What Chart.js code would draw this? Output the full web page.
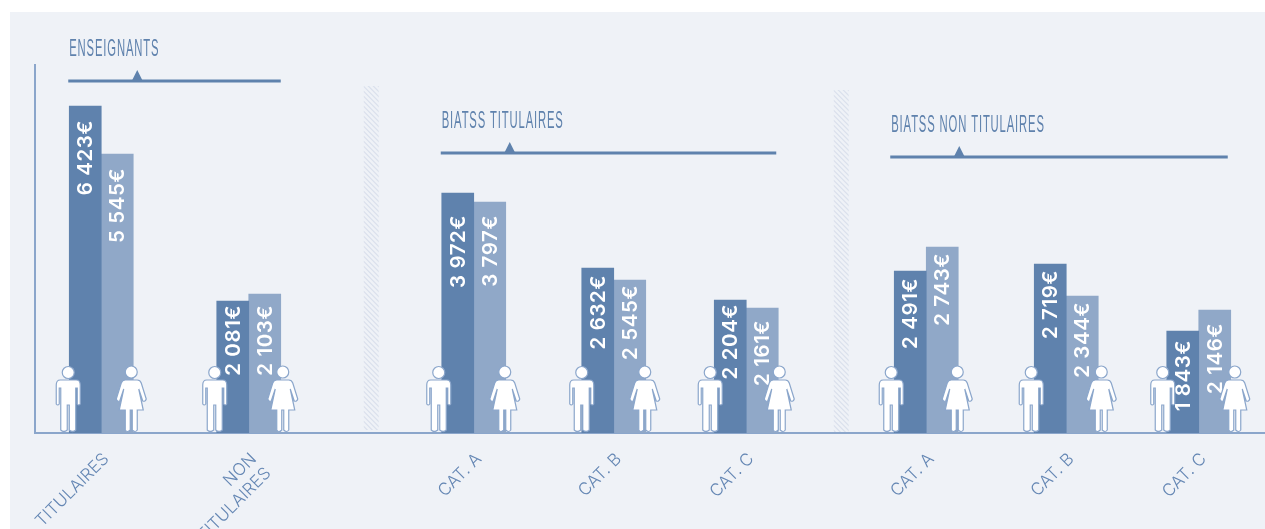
<!DOCTYPE html>
<html>
<head>
<meta charset="utf-8">
<style>
    html, body { margin: 0; padding: 0; background: #fff; overflow: hidden; }
    .panel { position: absolute; left: 10px; top: 12px; right: 0; bottom: 0; background: #eff2f7; }
    .wrap { position: absolute; left: 0; top: 0; width: 1265px; height: 529px; }
</style>
</head>
<body>
<div class="panel"></div>
<div class="wrap"><canvas id="chart"></canvas></div>
<script src="https://cdn.jsdelivr.net/npm/chart.js@4"></script>
<script>
const groupLabels = ['TITULAIRES', ['NON', 'TITULAIRES'], 'CAT. A', 'CAT. B', 'CAT. C', 'CAT. A', 'CAT. B', 'CAT. C'];
const menAmounts = ['6 423€', '2 081€', '3 972€', '2 632€', '2 204€', '2 491€', '2 719€', '1 843€'];
const womenAmounts = ['5 545€', '2 103€', '3 797€', '2 545€', '2 161€', '2 743€', '2 344€', '2 146€'];

// bar heights: the drawn bars are not to scale with the printed amounts
const menHeights = [327, 132, 240, 165, 133, 162, 169, 102];
const womenHeights = [279, 139, 231, 153, 125, 186, 137, 123];

// empty category slots in front of each group, the groups are not evenly spaced
const slotsBefore = [26, 58, 89, 55, 52, 71, 55, 52];
const slotsAfter = 26;

const menLabelGap = [14, 4, 22, 7, 4, 7, 6, 9];
const womenLabelGap = [14, 11, 13, 5, 12, 6, 6, 13];
const manOffset = [-33, -34, -35, -32, -36, -35, -35, -36];
const womanOffset = [30, 34, 31, 31, 33, 31, 35, 36];

const headers = [
    { title: 'ENSEIGNANTS', first: 0, last: 1, level: 352, lead: 33, tail: 32 },
    { title: 'BIATSS TITULAIRES', first: 2, last: 4, level: 280, lead: 33, tail: 30 },
    { title: 'BIATSS NON TITULAIRES', first: 5, last: 7, level: 276, lead: 36, tail: 29 }
];
const separators = [
    { slot: 134, top: 347, bottom: 3 },
    { slot: 322, top: 343, bottom: 1 }
];

const dark = '#5f82ad';
const light = '#90a8c8';
const tickBlue = '#6587b4';
const axisBlue = '#8ba6cb';

const labels = [];
const men = [];
const women = [];
const groupSlots = [];
slotsBefore.forEach((gap, i) => {
    for (let k = 0; k < gap; k++) {
        labels.push('');
        men.push(null);
        women.push(null);
    }
    groupSlots.push(labels.length);
    labels.push(groupLabels[i]);
    men.push(menHeights[i]);
    women.push(womenHeights[i]);
});
for (let k = 0; k < slotsAfter; k++) {
    labels.push('');
    men.push(null);
    women.push(null);
}

function drawMan(ctx, x) {
    const top = 380;
    ctx.save();
    ctx.translate(x, 0);
    ctx.fillStyle = '#fff';
    ctx.strokeStyle = axisBlue;
    ctx.lineWidth = 1.2;
    ctx.beginPath();
    ctx.arc(0, 372.5, 6, 0, Math.PI * 2);
    ctx.fill();
    ctx.stroke();
    ctx.beginPath();
    ctx.moveTo(-8, top);
    ctx.lineTo(8, top);
    ctx.quadraticCurveTo(12, top, 12, top + 5);
    ctx.lineTo(12, top + 24);
    ctx.quadraticCurveTo(10.5, top + 26, 9, top + 24);
    ctx.lineTo(9, top + 8);
    ctx.lineTo(7.5, top + 8);
    ctx.lineTo(7.5, top + 50);
    ctx.quadraticCurveTo(4.5, top + 53, 1, top + 50);
    ctx.lineTo(1, top + 25);
    ctx.lineTo(-1, top + 25);
    ctx.lineTo(-1, top + 50);
    ctx.quadraticCurveTo(-4.5, top + 53, -7.5, top + 50);
    ctx.lineTo(-7.5, top + 8);
    ctx.lineTo(-9, top + 8);
    ctx.lineTo(-9, top + 24);
    ctx.quadraticCurveTo(-10.5, top + 26, -12, top + 24);
    ctx.lineTo(-12, top + 5);
    ctx.quadraticCurveTo(-12, top, -8, top);
    ctx.closePath();
    ctx.fill();
    ctx.stroke();
    ctx.restore();
}

function drawWoman(ctx, x) {
    const top = 380;
    ctx.save();
    ctx.translate(x, 0);
    ctx.fillStyle = '#fff';
    ctx.strokeStyle = axisBlue;
    ctx.lineWidth = 1.2;
    ctx.beginPath();
    ctx.arc(0, 372, 6, 0, Math.PI * 2);
    ctx.fill();
    ctx.stroke();
    ctx.beginPath();
    ctx.moveTo(-6, top);
    ctx.lineTo(6, top);
    ctx.quadraticCurveTo(9, top, 10, top + 3);
    ctx.lineTo(15, top + 19);
    ctx.quadraticCurveTo(14, top + 22, 11.5, top + 21);
    ctx.lineTo(7.5, top + 9);
    ctx.lineTo(12, top + 30);
    ctx.lineTo(6, top + 30);
    ctx.lineTo(6, top + 50);
    ctx.quadraticCurveTo(4, top + 53, 1, top + 50);
    ctx.lineTo(1, top + 30);
    ctx.lineTo(-1, top + 30);
    ctx.lineTo(-1, top + 50);
    ctx.quadraticCurveTo(-4, top + 53, -6, top + 50);
    ctx.lineTo(-6, top + 30);
    ctx.lineTo(-12, top + 30);
    ctx.lineTo(-7.5, top + 9);
    ctx.lineTo(-11.5, top + 21);
    ctx.quadraticCurveTo(-14, top + 22, -15, top + 19);
    ctx.lineTo(-10, top + 3);
    ctx.quadraticCurveTo(-9, top, -6, top);
    ctx.closePath();
    ctx.fill();
    ctx.stroke();
    ctx.restore();
}

function drawAmounts(chart, datasetIndex, texts, gaps) {
    const ctx = chart.ctx;
    const bars = chart.getDatasetMeta(datasetIndex).data;
    groupSlots.forEach((slot, i) => {
        ctx.save();
        ctx.translate(bars[slot].x, bars[slot].y + gaps[i]);
        ctx.rotate(-Math.PI / 2);
        ctx.font = '600 20.5px Inter';
        ctx.letterSpacing = '0.6px';
        ctx.fillStyle = '#fff';
        ctx.textAlign = 'right';
        ctx.textBaseline = 'middle';
        ctx.fillText(texts[i], 0, 1);
        ctx.restore();
    });
}

const decorations = {
    id: 'decorations',
    beforeDatasetsDraw(chart) {
        const ctx = chart.ctx;
        const x = chart.scales.x;
        const y = chart.scales.y;
        separators.forEach(sep => {
            const cx = x.getPixelForValue(sep.slot);
            const top = y.getPixelForValue(sep.top);
            const bottom = y.getPixelForValue(sep.bottom);
            ctx.save();
            ctx.beginPath();
            ctx.rect(cx - 7.5, top, 15, bottom - top);
            ctx.clip();
            ctx.strokeStyle = '#dae0ec';
            ctx.lineWidth = 1.2;
            ctx.beginPath();
            for (let k = top - 20; k < bottom; k += 5) {
                ctx.moveTo(cx - 8, k);
                ctx.lineTo(cx + 8, k + 16);
            }
            ctx.stroke();
            ctx.restore();
        });
        headers.forEach(h => {
            const left = x.getPixelForValue(groupSlots[h.first]) - h.lead;
            const right = x.getPixelForValue(groupSlots[h.last]) + h.tail;
            const level = y.getPixelForValue(h.level);
            ctx.fillStyle = dark;
            ctx.fillRect(left, level - 1.5, right - left, 3);
            ctx.beginPath();
            ctx.moveTo(left + 63.5, level);
            ctx.lineTo(left + 69, level - 11);
            ctx.lineTo(left + 74.5, level);
            ctx.closePath();
            ctx.fill();
            ctx.save();
            ctx.translate(left + 1, level - 32);
            ctx.scale(0.47, 1);
            ctx.font = '24px "Liberation Sans"';
            ctx.letterSpacing = '1.8px';
            ctx.textBaseline = 'middle';
            ctx.fillText(h.title, 0, 0);
            ctx.restore();
        });
    },
    afterDatasetsDraw(chart) {
        const ctx = chart.ctx;
        const x = chart.scales.x;
        drawAmounts(chart, 0, menAmounts, menLabelGap);
        drawAmounts(chart, 1, womenAmounts, womenLabelGap);
        groupSlots.forEach((slot, i) => {
            drawMan(ctx, x.getPixelForValue(slot) + manOffset[i]);
            drawWoman(ctx, x.getPixelForValue(slot) + womanOffset[i]);
        });
    }
};

new Chart(document.querySelector('#chart'), {
    type: 'bar',
    data: {
        labels: labels,
        datasets: [
            { label: 'Hommes', data: men, backgroundColor: dark },
            { label: 'Femmes', data: women, backgroundColor: light }
        ]
    },
    options: {
        responsive: true,
        maintainAspectRatio: false,
        animation: false,
        barThickness: 32,
        layout: { padding: { left: 35, top: 65, right: 0, bottom: 0 } },
        plugins: { legend: { display: false }, tooltip: { enabled: false } },
        scales: {
            x: {
                grid: { display: false },
                border: { color: axisBlue, width: 2 },
                afterFit(scale) {
                    scale.height = 96;
                    scale.paddingLeft = 0;
                    scale.paddingRight = 0;
                },
                ticks: {
                    autoSkip: false,
                    minRotation: 45,
                    maxRotation: 45,
                    labelOffset: 5,
                    padding: 8,
                    color: tickBlue,
                    font: { family: 'Inter', size: 17, weight: 300 }
                }
            },
            y: {
                min: 0,
                max: 368,
                grid: { display: false },
                border: { color: axisBlue, width: 2 },
                afterFit(scale) { scale.width = 0; },
                ticks: { display: false }
            }
        }
    },
    plugins: [decorations]
});
</script>
</body>
</html>
